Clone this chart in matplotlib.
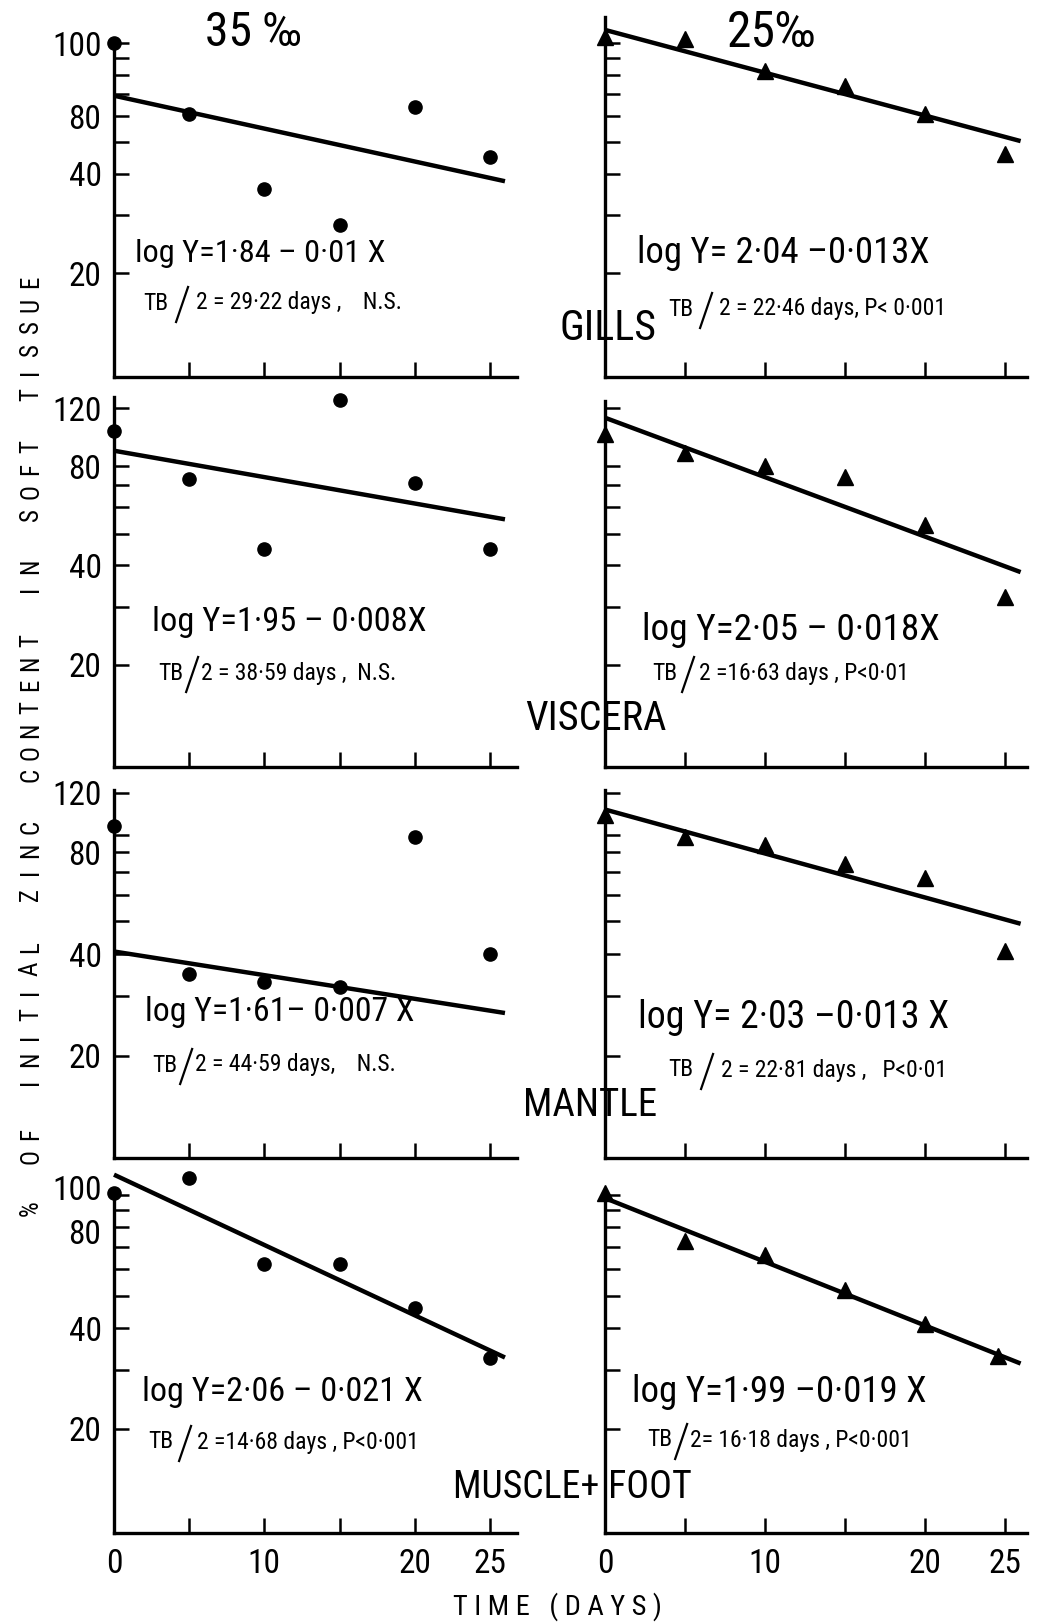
import matplotlib
matplotlib.use("Agg")
import matplotlib.pyplot as plt
from matplotlib.lines import Line2D
from matplotlib import font_manager as fm
from matplotlib.transforms import ScaledTranslation

W, H = 1045, 1623

# ---------------- pick a narrow font if one is installed ----------------
def pick_font():
    prefs = ['Liberation Sans Narrow', 'Roboto Condensed', 'Open Sans Condensed',
             'Noto Sans Condensed', 'DejaVu Sans Condensed']
    cands = []
    for f in fm.fontManager.ttflist:
        narrow = ('Narrow' in f.name or 'Condensed' in f.name or
                  str(f.stretch) in ('condensed', 'semi-condensed', 'extra-condensed'))
        if narrow and f.style == 'normal' and f.weight in (400, 'normal', 'regular', 'book'):
            cands.append(f)
    if not cands:
        return fm.FontProperties(family='DejaVu Sans', stretch='condensed')

    def score(f):
        for i, p in enumerate(prefs):
            if f.name == p:
                return i
        if f.name in ('DejaVu Sans', 'Noto Sans', 'Open Sans', 'Roboto'):
            return 10
        return 20
    cands.sort(key=score)
    return fm.FontProperties(fname=cands[0].fname)


FP = pick_font()


def fp(size):
    p = FP.copy()
    p.set_size(size)
    return p


# ---------------- data ----------------
days = [0, 5, 10, 15, 20, 25]
days_muscle_25 = [0, 5, 10, 15, 20, 24.6]

gills_35 = [100, 61, 36, 28, 64, 45]
gills_25 = [104, 103, 82, 74, 61, 46]
viscera_35 = [102, 73, 45, 127, 71, 45]
viscera_25 = [100, 88, 80, 74, 53, 32]
mantle_35 = [96, 35, 33, 32, 89, 40]
mantle_25 = [103, 89, 84, 74, 67, 41]
muscle_35 = [101, 112, 62, 62, 46, 32.5]
muscle_25 = [101, 73, 66, 52, 41, 33]

# regression: log Y = a - b X
fit_a_35 = [1.84, 1.95, 1.61, 2.06]
fit_b_35 = [0.01, 0.008, 0.007, 0.021]
fit_a_25 = [2.04, 2.05, 2.03, 1.99]
fit_b_25 = [0.013, 0.018, 0.013, 0.019]

tissues = ["GILLS", "VISCERA", "MANTLE", "MUSCLE+ FOOT"]
salinities = ["35 ‰", "25‰"]

eq_35 = ["log Y=1·84 – 0·01 X", "log Y=1·95 – 0·008X",
         "log Y=1·61– 0·007 X", "log Y=2·06 – 0·021 X"]
eq_25 = ["log Y= 2·04 –0·013X", "log Y=2·05 – 0·018X",
         "log Y= 2·03 –0·013 X", "log Y=1·99 –0·019 X"]
tb_35 = ["2 = 29·22 days ,    N.S.", "2 = 38·59 days ,  N.S.",
         "2 = 44·59 days,    N.S.", "2 =14·68 days , P<0·001"]
tb_25 = ["2 = 22·46 days, P< 0·001", "2 =16·63 days , P<0·01",
         "2 = 22·81 days ,   P<0·01", "2= 16·18 days , P<0·001"]

ytick_vals = [[20, 30, 40, 50, 60, 70, 80, 90, 100],
              [20, 30, 40, 50, 60, 70, 80, 120],
              [20, 30, 40, 50, 60, 70, 80, 90, 120],
              [20, 30, 40, 50, 60, 70, 80, 90, 100]]
ytick_labels = [['20', '', '40', '', '80', '', '', '', '100'],
                ['20', '', '40', '', '', '', '80', '120'],
                ['20', '', '40', '', '', '', '80', '', '120'],
                ['20', '', '40', '', '', '', '80', '', '100']]
xtick_vals = [0, 5, 10, 15, 20, 25]
xtick_label_vals = [0, 10, 20, 25]

ylabel_words = ["%", "OF", "INITIAL", "ZINC", "CONTENT", "IN", "SOFT", "TISSUE"]
xlabel_text = "T I M E   ( D A Y S )"

# ---------------- layout ----------------
rows_top = [17, 385, 780, 1160]
rows_bot = [377, 767, 1158, 1533]
ylims = [(9.66, 120), (9.8, 141), (9.98, 131), (9.77, 127)]
spine_top = [[100, 120], [130, 126], [122, 122], [100, 97]]
col_left = [114, 605]
col_width = [403, 422]
xlims = [(0, 26.8), (0, 26.4)]

fig = plt.figure(figsize=(W / 100, H / 100), dpi=100)
renderer = fig.canvas.get_renderer()


def fx(x):
    return x / W


def fy(y):
    return 1 - y / H


def fit_width(t, target):
    w = t.get_window_extent(renderer).width
    if w > 0:
        t.set_fontsize(t.get_fontsize() * target / w)


series_35 = [gills_35, viscera_35, mantle_35, muscle_35]
series_25 = [gills_25, viscera_25, mantle_25, muscle_25]

eq_pos = [[(135, 253, 250), (637, 253, 293)], [(152, 622, 275), (642, 630, 298)],
          [(145, 1012, 270), (638, 1017, 312)], [(142, 1392, 281), (632, 1392, 295)]]
tb_pos = [[(143, 303, 196, 241), (668, 309, 719, 296)],
          [(158, 673, 200, 245), (652, 673, 699, 259)],
          [(152, 1065, 181, 234), (668, 1070, 721, 299)],
          [(148, 1442, 197, 270), (647, 1440, 684, 306)]]
tissue_pos = [(608, 329, 97), (596, 719, 141), (590, 1105, 134), (572, 1488, 239)]

TICK_PT = 24

for r in range(4):
    for c in range(2):
        L, Wd = col_left[c], col_width[c]
        T, B = rows_top[r], rows_bot[r]
        ax = fig.add_axes([fx(L), fy(B), Wd / W, (B - T) / H])
        ax.set_yscale('log')
        ax.set_xlim(*xlims[c])
        ax.set_ylim(*ylims[r])
        ax.patch.set_alpha(0)
        for s in ['top', 'right']:
            ax.spines[s].set_visible(False)
        for s in ['left', 'bottom']:
            ax.spines[s].set_linewidth(2.4)
        ax.spines['left'].set_bounds(ylims[r][0], spine_top[r][c])
        ax.minorticks_off()
        ax.set_yticks(ytick_vals[r])
        if c == 0:
            ax.set_yticklabels(ytick_labels[r])
        else:
            ax.set_yticklabels([''] * len(ytick_vals[r]))
        ax.tick_params(axis='y', direction='in', length=11, width=1.8, pad=9)
        ax.set_xticks(xtick_vals)
        if r == 3:
            ax.set_xticklabels([str(v) if v in xtick_label_vals else ''
                                for v in xtick_vals])
        else:
            ax.set_xticklabels([''] * len(xtick_vals))
        ax.tick_params(axis='x', direction='in', length=11, width=1.8, pad=11)
        for lab in ax.get_xticklabels() + ax.get_yticklabels():
            lab.set_fontproperties(fp(TICK_PT))
        for t in ax.xaxis.get_major_ticks():
            if t.get_loc() == 0:
                t.tick1line.set_visible(False)
        if r == 3 and c == 0:
            # nudge the top label up a little, as in the original lettering
            for tk in ax.yaxis.get_major_ticks():
                if tk.get_loc() == 100:
                    tk.label1.set_transform(tk.label1.get_transform() +
                                            ScaledTranslation(0, 5 / 72, fig.dpi_scale_trans))
                if tk.get_loc() == 80:
                    tk.label1.set_transform(tk.label1.get_transform() +
                                            ScaledTranslation(0, -3 / 72, fig.dpi_scale_trans))

        if c == 0:
            a, b, yv, xv, mk, ms = fit_a_35[r], fit_b_35[r], series_35[r], days, 'o', 9.5
        else:
            a, b, yv, xv, mk, ms = fit_a_25[r], fit_b_25[r], series_25[r], \
                (days_muscle_25 if r == 3 else days), '^', 12
        xl = [0, 26]
        ax.plot(xl, [10 ** (a - b * x) for x in xl], color='black', lw=3.2,
                solid_capstyle='butt', clip_on=False, zorder=3)
        ax.plot(xv, yv, linestyle='none', marker=mk, markersize=ms,
                color='black', clip_on=False, zorder=4)

        # equation text
        ex, ey, ew = eq_pos[r][c]
        t = fig.text(fx(ex), fy(ey), (eq_35 if c == 0 else eq_25)[r],
                     fontproperties=fp(25), ha='left', va='center')
        fit_width(t, ew)
        # half-life text: "TB" / "2 = ..."
        tx, ty, sx, sw = tb_pos[r][c]
        t = fig.text(fx(sx), fy(ty), (tb_35 if c == 0 else tb_25)[r],
                     fontproperties=fp(15), ha='left', va='center')
        fit_width(t, sw)
        size = min(t.get_fontsize(), 17)
        t.set_fontsize(size)
        tb = fig.text(fx(tx), fy(ty), "TB", fontproperties=fp(size),
                      ha='left', va='center')
        tb_end = tx + tb.get_window_extent(renderer).width
        mid = max((tb_end + sx) / 2.0, tb_end + 9)
        s0, s1 = mid - 6, mid + 6
        fig.add_artist(Line2D([fx(s0), fx(s1)], [fy(ty + 19), fy(ty - 16)],
                              transform=fig.transFigure, color='black', lw=1.6))
        if sx < s1 + 3:
            t.set_x(fx(s1 + 3))

    tx, ty, tw = tissue_pos[r]
    t = fig.text(fx(tx), fy(ty), tissues[r], fontproperties=fp(27),
                 ha='center', va='center')
    fit_width(t, tw)

t = fig.text(fx(253), fy(33), salinities[0], fontproperties=fp(23),
             ha='center', va='center')
fit_width(t, 97)
t = fig.text(fx(772), fy(33), salinities[1], fontproperties=fp(23),
             ha='center', va='center')
fit_width(t, 90)

t = fig.text(fx(557), fy(1607), xlabel_text, fontproperties=fp(16),
             ha='center', va='center')
fit_width(t, 210)

# y label: letter-spaced vertical caption
y_start, y_end = 1208, 282
n_letters = sum(len(w) for w in ylabel_words)
n_gaps_word = len(ylabel_words) - 1
gap_ratio = 2.3
step = (y_start - y_end) / ((n_letters - len(ylabel_words)) + n_gaps_word * gap_ratio)
ypos = y_start
for wi, word in enumerate(ylabel_words):
    for li, ch in enumerate(word):
        fig.text(fx(31), fy(ypos), ch, fontproperties=fp(18), rotation=90,
                 ha='center', va='center')
        if li < len(word) - 1:
            ypos -= step
    ypos -= step * gap_ratio

fig.savefig("out.png", dpi=100, facecolor='white')
